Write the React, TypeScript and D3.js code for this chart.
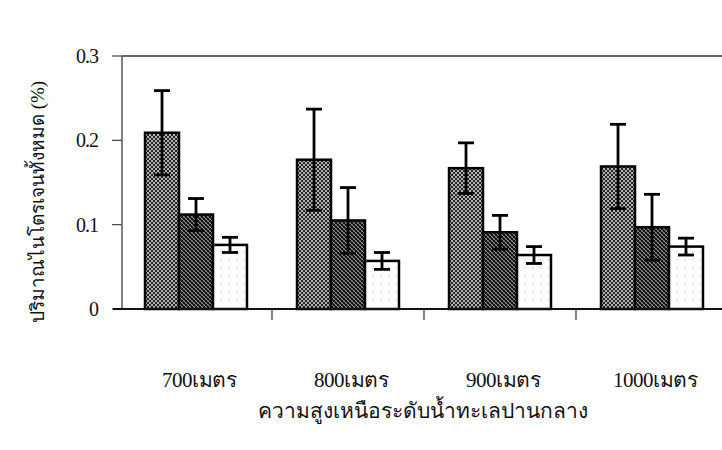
import React from "react";
import * as d3 from "d3";

const categories = ["700เมตร", "800เมตร", "900เมตร", "1000เมตร"];
const seriesKeys = ["s1", "s2", "s3"];
const series1 = [0.209, 0.177, 0.167, 0.169];
const series2 = [0.112, 0.105, 0.091, 0.097];
const series3 = [0.076, 0.057, 0.064, 0.074];
const err1 = [0.05, 0.06, 0.03, 0.05];
const err2 = [0.019, 0.039, 0.02, 0.039];
const err3 = [0.009, 0.01, 0.01, 0.01];
const yTicks = [0, 0.1, 0.2, 0.3];
const yTickLabels = ["0", "0.1", "0.2", "0.3"];
const xTitle = "ความสูงเหนือระดับน้ำทะเลปานกลาง";
const yTitle = "ปริมาณไนโตรเจนทั้งหมด (%)";

const W = 722;
const H = 450;

export default function App() {
  const values = [series1, series2, series3];
  const errs = [err1, err2, err3];
  const x = d3.scaleBand<string>().domain(categories).range([120, 728]).paddingInner(0.329).paddingOuter(0.1645);
  const xs = d3.scaleBand<string>().domain(seriesKeys).range([0, x.bandwidth()]).padding(0);
  const y = d3.scaleLinear().domain([0, 0.3]).range([309, 56]);
  const fills = ["url(#p1)", "url(#p2)", "url(#p3)"];
  const boundaries = [1, 2, 3].map((i) => 120 + i * x.step());
  const serif = "'Liberation Serif', 'DejaVu Serif', serif";

  return (
    <svg width={W} height={H} style={{ position: "absolute", left: 0, top: 0, background: "#fff" }}>
      <defs>
        <pattern id="p1" width="4" height="4" patternUnits="userSpaceOnUse">
          <rect width="4" height="4" fill="#b4b4b4" />
          <rect x="0" y="0" width="2" height="2" fill="#222" />
          <rect x="2" y="2" width="2" height="2" fill="#222" />
        </pattern>
        <pattern id="p2" width="4" height="4" patternUnits="userSpaceOnUse">
          <rect width="4" height="4" fill="#999" />
          <rect x="0" y="0" width="2" height="2" fill="#111" />
          <rect x="2" y="2" width="2" height="2" fill="#111" />
          <path d="M0,4 L4,0" stroke="#111" strokeWidth="0.6" />
        </pattern>
        <pattern id="p3" width="8" height="8" patternUnits="userSpaceOnUse">
          <rect width="8" height="8" fill="#fff" />
          <rect x="3" y="3" width="1.5" height="1.5" fill="#d8d8d8" />
        </pattern>
      </defs>

      {/* frame top */}
      <line x1={122} x2={722} y1={y(0.3)} y2={y(0.3)} stroke="#333" strokeWidth={1.5} />
      {/* y axis */}
      <line x1={122} x2={122} y1={y(0.3)} y2={y(0)} stroke="#555" strokeWidth={1.5} />
      {yTicks.map((t, i) => (
        <g key={t}>
          <line x1={112} x2={122} y1={y(t)} y2={y(t)} stroke="#444" strokeWidth={1.2} />
          <text x={98} y={y(t)} dy="0.35em" textAnchor="end" fontFamily={serif} fontSize={20} fill="#111" letterSpacing={-1}>
            {yTickLabels[i]}
          </text>
        </g>
      ))}

      {/* bars */}
      {categories.map((c, ci) => (
        <g key={c} transform={`translate(${x(c)},0)`}>
          {seriesKeys.map((k, si) => {
            const v = values[si][ci];
            return (
              <rect
                key={k}
                x={xs(k)}
                y={y(v)}
                width={xs.bandwidth()}
                height={y(0) - y(v)}
                fill={fills[si]}
                stroke="#000"
                strokeWidth={2.5}
              />
            );
          })}
          {seriesKeys.map((k, si) => {
            const v = values[si][ci];
            const e = errs[si][ci];
            const cx = (xs(k) as number) + xs.bandwidth() / 2;
            return (
              <g key={k + "e"} stroke="#000" strokeWidth={2.8}>
                <line x1={cx} x2={cx} y1={y(v - e)} y2={y(v + e)} />
                <line x1={cx - 8} x2={cx + 8} y1={y(v + e)} y2={y(v + e)} />
                <line x1={cx - 8} x2={cx + 8} y1={y(v - e)} y2={y(v - e)} />
              </g>
            );
          })}
        </g>
      ))}

      {/* x axis */}
      <line x1={113} x2={722} y1={y(0)} y2={y(0)} stroke="#111" strokeWidth={2} />
      {boundaries.map((b) => (
        <line key={b} x1={b} x2={b} y1={y(0)} y2={y(0) + 11} stroke="#333" strokeWidth={1.2} />
      ))}
      {categories.map((c) => (
        <text key={c} x={(x(c) as number) + x.bandwidth() / 2 + 3} y={387} textAnchor="middle" fontFamily={serif} fontSize={21} fill="#111" letterSpacing={-0.5}>
          {c}
        </text>
      ))}
      <text x={423} y={418} textAnchor="middle" fontFamily={serif} fontSize={21} fill="#111">
        {xTitle}
      </text>
      <text transform={`translate(44,202) rotate(-90)`} textAnchor="middle" fontFamily={serif} fontSize={19} fill="#111">
        {yTitle}
      </text>
    </svg>
  );
}
